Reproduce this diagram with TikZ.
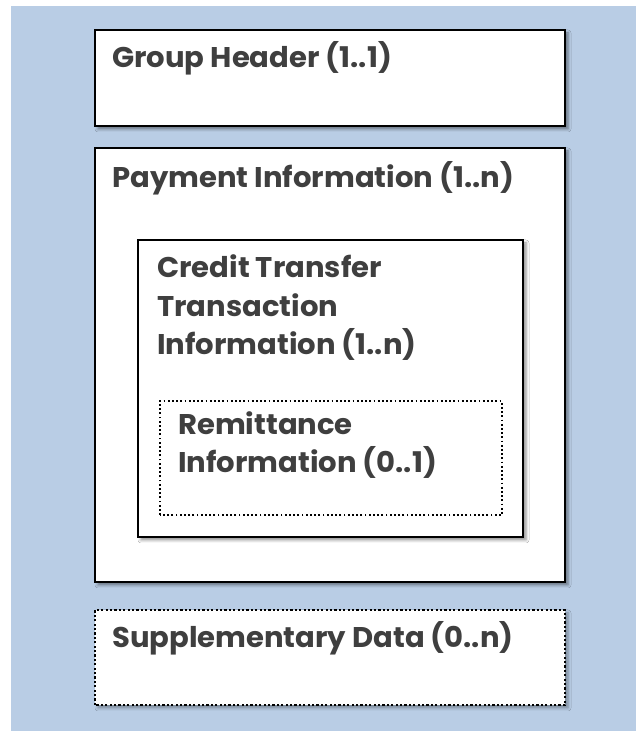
\documentclass[tikz,border=0pt]{standalone}
\usepackage{fontspec}
\setmainfont{Poppins}[FakeStretch=1.02]
\usetikzlibrary{shadows.blur}
\definecolor{bgblue}{HTML}{B9CDE5}
\definecolor{txt}{HTML}{3F3F3F}
\tikzset{
  solidbox/.style={draw=black, line width=1.8pt, fill=white,
    blur shadow={shadow xshift=3pt, shadow yshift=-3pt, shadow blur radius=3pt, shadow opacity=45}},
  dotbox/.style={draw=black, line width=2.6pt, fill=white, dash pattern=on 2.2pt off 2.2pt,
    blur shadow={shadow xshift=3pt, shadow yshift=-3pt, shadow blur radius=3pt, shadow opacity=35}},
  finedot/.style={draw=black, line width=2pt, fill=white, dash pattern=on 1.8pt off 2.4pt},
  lbl/.style={anchor=base west, inner sep=0pt, text=txt, font=\fontsize{28.5}{34}\selectfont\bfseries}
}
\begin{document}
\begin{tikzpicture}[x=1pt,y=1pt]
\useasboundingbox (0,0) rectangle (636,731);
\fill[bgblue] (11,0) rectangle (636,725);
% Group header
\draw[solidbox] (95,605) rectangle (565,701);
\node[lbl] (gh) at (112,663) {Group Header (1..1)};
% Payment information
\draw[solidbox] (95,149) rectangle (565,583);
\node[lbl] (pi) at (112,543) {Payment Information (1..n)};
% Credit transfer
\draw[solidbox] (138,194) rectangle (523,491);
\node[lbl] (ct1) at (157,453) {Credit Transfer};
\node[lbl] (ct2) at (157,414) {Transaction};
\node[lbl] (ct3) at (157,376) {Information (1..n)};
% Remittance
\draw[finedot] (160,216) rectangle (502,330);
\node[lbl] (ri1) at (178,296) {Remittance};
\node[lbl] (ri2) at (178,258) {Information (0..1)};
% Supplementary
\draw[dotbox] (95,26) rectangle (565,121);
\node[lbl] (sd) at (112,83) {Supplementary Data (0..n)};
\end{tikzpicture}
\end{document}
